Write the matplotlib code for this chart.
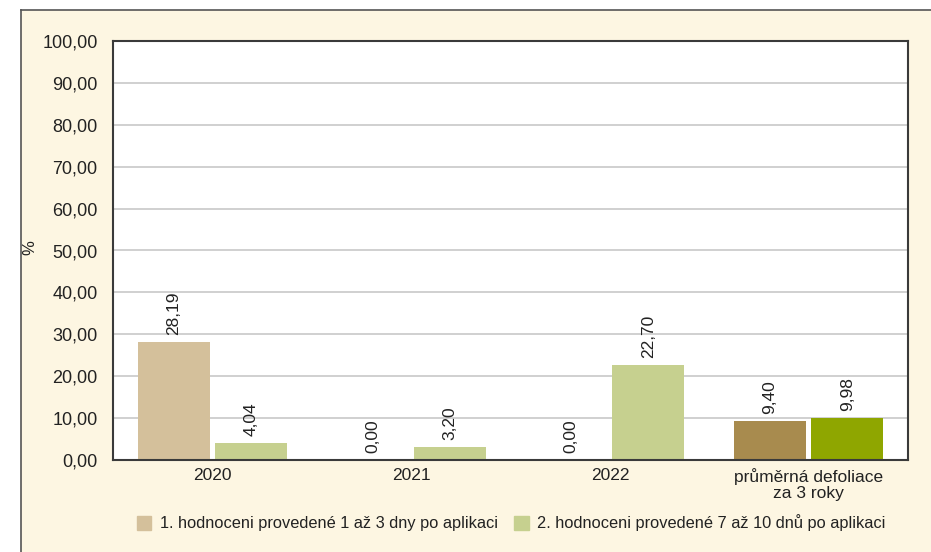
#!/usr/bin/env python

import matplotlib
matplotlib.use("Agg")
import matplotlib.pyplot as plt
import numpy as np
from matplotlib.patches import Rectangle, Patch

categories = ["2020", "2021", "2022", "průměrná defoliace\nza 3 roky"]
first = [28.19, 0.00, 0.00, 9.40]
second = [4.04, 3.20, 22.70, 9.98]
series_names = [
    "1. hodnoceni provedené 1 až 3 dny po aplikaci",
    "2. hodnoceni provedené 7 až 10 dnů po aplikaci",
]
yticks = np.arange(0, 101, 10)

C1 = ["#d4c09b", "#d4c09b", "#d4c09b", "#a88b4e"]
C2 = ["#c6d08f", "#c6d08f", "#c6d08f", "#8fa600"]
BG = "#fdf6e2"


def fmt(v):
    return f"{v:.2f}".replace(".", ",")


def main():
    plt.rcParams["font.family"] = ["Liberation Sans", "DejaVu Sans"]
    fig = plt.figure(figsize=(9.31, 5.52), dpi=100)
    fig.patch.set_facecolor("white")

    # cream panel with border on top/left
    fig.patches.append(Rectangle((21 / 931, 0), 1, 1 - 10 / 552,
                                 transform=fig.transFigure, facecolor=BG,
                                 edgecolor="none", zorder=-5))
    fig.add_artist(plt.Line2D([21 / 931, 1], [1 - 10 / 552] * 2,
                              transform=fig.transFigure, color="#555555", lw=1.2))
    fig.add_artist(plt.Line2D([21 / 931] * 2, [0, 1 - 10 / 552],
                              transform=fig.transFigure, color="#555555", lw=1.2))

    ax = fig.add_axes([113 / 931, 92 / 552, 795 / 931, 419 / 552])
    ax.set_zorder(3)
    ax.set_facecolor("white")

    x = np.arange(len(categories))
    w = 0.362
    off = 0.194
    b1 = ax.bar(x - off, first, w, color=C1, zorder=2)
    b2 = ax.bar(x + off, second, w, color=C2, zorder=2)

    for bars, vals in ((b1, first), (b2, second)):
        for rect, v in zip(bars, vals):
            ax.annotate(fmt(v), (rect.get_x() + rect.get_width() / 2, v),
                        xytext=(0, 5), textcoords="offset points",
                        rotation=90, ha="center", va="bottom",
                        fontsize=12.5, color="#222222")

    ax.set_xlim(-0.5, len(categories) - 0.5)
    ax.set_ylim(0, 100)
    ax.set_yticks(yticks)
    ax.set_yticklabels([fmt(t) for t in yticks], fontsize=13, color="#222222")
    ax.set_xticks(x)
    ax.set_xticklabels(categories, fontsize=12.5, color="#222222", linespacing=1.05)
    ax.tick_params(length=0, pad=6)
    ax.tick_params(axis="y", pad=11)
    ax.grid(axis="y", color="#c8c8c8", lw=1.2, zorder=0)
    for s in ax.spines.values():
        s.set_color("#3a3a3a")
        s.set_linewidth(1.5)

    fig.text(30 / 931, 1 - 248 / 552, "%", rotation=90, ha="center",
             va="center", fontsize=12, color="#222222")

    handles = [Patch(color=C1[0]), Patch(color=C2[0])]
    fig.legend(handles, series_names, loc="center",
               bbox_to_anchor=(511 / 931, 1 - 523 / 552), ncol=2, frameon=False,
               fontsize=11.8, handlelength=0.9, handleheight=0.9,
               handletextpad=0.5, columnspacing=1.0, labelcolor="#222222")

    fig.savefig("out.png", dpi=100, facecolor=fig.get_facecolor())


if __name__ == "__main__":
    main()
